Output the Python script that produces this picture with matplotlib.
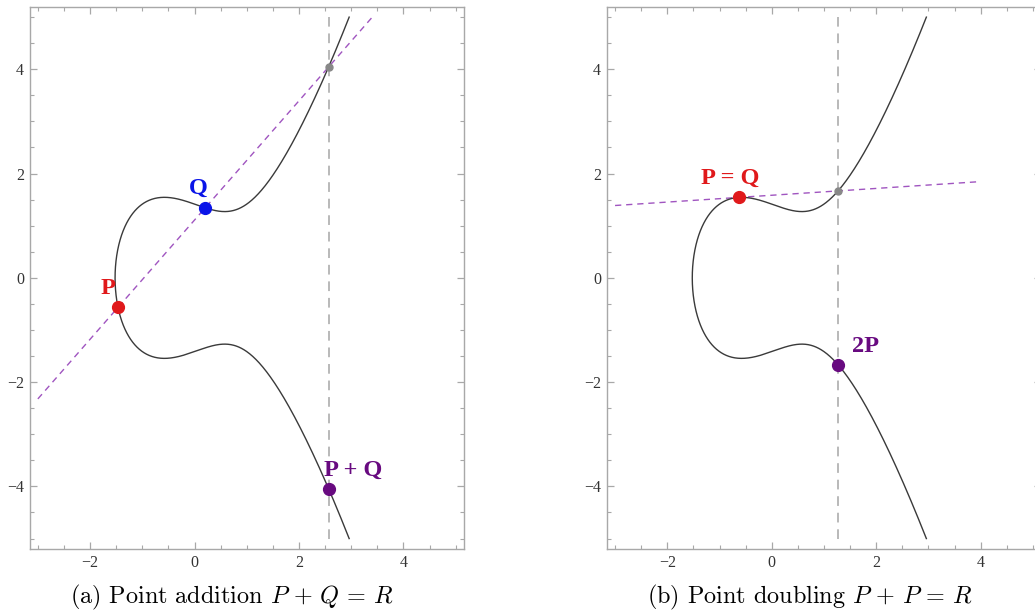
import numpy as np
import matplotlib
matplotlib.use("Agg")
import matplotlib.pyplot as plt
from matplotlib.ticker import MultipleLocator

# ---- data ----
curve_a = -1.0          # y^2 = x^3 + a x + b
curve_b = 2.0
curve_ymax = 5.0
add_px = [-1.465, 0.205]      # x of P and Q (lower/upper branch signs below)
add_sign = [-1, 1]
add_line_x = [-3.0, 3.4]
dbl_px = -0.633
dbl_line_x = [-3.0, 4.0]
xlim = [-3.16, 5.16]
ylim = [-5.2, 5.2]
xticks = [-2, 0, 2, 4]
yticks = [-4, -2, 0, 2, 4]
captions = [r"(a) Point addition $P\,+\,Q\,=\,R$", r"(b) Point doubling $P\,+\,P\,=\,R$"]

RED = "#e0191b"
BLUE = "#0a14e8"
PURPLE = "#680a80"
LINEPUR = "#a055c0"
GRAY = "#888888"
VGRAY = "#b9b9b9"
CURVE = "#3a3a3a"

plt.rcParams['mathtext.fontset'] = 'cm'


def f(x):
    return x**3 + curve_a * x + curve_b


def real_root(c):
    r = np.roots([1, 0, curve_a, curve_b - c])
    r = r[np.abs(r.imag) < 1e-9].real
    return r.max()


x0 = real_root(0.0)
x1 = real_root(curve_ymax**2)
t = np.linspace(0, 1, 800)
xs = x0 + (x1 - x0) * t**2
ys = np.sqrt(np.clip(f(xs), 0, None))
curve_x = np.concatenate([xs[::-1], xs])
curve_y = np.concatenate([-ys[::-1], ys])


def style_axes(ax):
    ax.set_xlim(xlim)
    ax.set_ylim(ylim)
    ax.set_xticks(xticks)
    ax.set_yticks(yticks)
    ax.xaxis.set_minor_locator(MultipleLocator(0.5))
    ax.yaxis.set_minor_locator(MultipleLocator(0.5))
    for s in ax.spines.values():
        s.set_color("#a8a8a8")
        s.set_linewidth(1.0)
    ax.tick_params(which='both', direction='in', top=True, right=True,
                   color="#a8a8a8", labelcolor="#333333", labelsize=11.5, pad=4)
    ax.tick_params(which='major', length=5, width=0.9)
    ax.tick_params(which='minor', length=3, width=0.8)
    ax.set_xticklabels([("\u2212%d" % -v) if v < 0 else str(v) for v in xticks],
                       fontfamily="Liberation Serif")
    ax.set_yticklabels([("\u2212%d" % -v) if v < 0 else str(v) for v in yticks],
                       fontfamily="Liberation Serif")


fig = plt.figure(figsize=(10.35, 6.15), dpi=100)
W, H = 1035.0, 615.0
axA = fig.add_axes([29.5 / W, (H - 549) / H, 434.5 / W, 542.3 / H])
axB = fig.add_axes([606.7 / W, (H - 549) / H, 434.5 / W, 542.3 / H])

lab_kw = dict(fontfamily="Liberation Serif", fontweight="bold", fontsize=17.5,
              textcoords="offset points")

# ---- panel a ----
Px, Qx = add_px
Py = add_sign[0] * np.sqrt(f(Px))
Qy = add_sign[1] * np.sqrt(f(Qx))
m = (Qy - Py) / (Qx - Px)
Rx = m**2 - Px - Qx
Ry = Py + m * (Rx - Px)
lx = np.array(add_line_x)
axA.plot(lx, Py + m * (lx - Px), ls=(0, (4.5, 3.5)), color=LINEPUR, lw=1.0, zorder=2)
axA.plot([Rx, Rx], [-curve_ymax, curve_ymax], ls=(0, (5, 3.5)), color=VGRAY, lw=1.4, zorder=1)
axA.plot(curve_x, curve_y, color=CURVE, lw=1.0, zorder=3)
axA.plot([Rx], [Ry], 'o', color=GRAY, ms=5, zorder=4)
axA.plot([Px], [Py], 'o', color=RED, ms=8.5, zorder=5)
axA.plot([Qx], [Qy], 'o', color=BLUE, ms=8.5, zorder=5)
axA.plot([Rx], [-Ry], 'o', color=PURPLE, ms=8.5, zorder=5)
axA.annotate("P", (Px, Py), xytext=(-7, 13.5), color=RED, ha='center', va='center', **lab_kw)
axA.annotate("Q", (Qx, Qy), xytext=(-5, 14), color=BLUE, ha='center', va='center', **lab_kw)
axA.annotate("P + Q", (Rx, -Ry), xytext=(-3.5, 13.5), color=PURPLE, ha='left', va='center', **lab_kw)
style_axes(axA)

# ---- panel b ----
Dy = np.sqrt(f(dbl_px))
mt = (3 * dbl_px**2 + curve_a) / (2 * Dy)
Tx = mt**2 - 2 * dbl_px
Ty = Dy + mt * (Tx - dbl_px)
lx = np.array(dbl_line_x)
axB.plot(lx, Dy + mt * (lx - dbl_px), ls=(0, (4.5, 3.5)), color=LINEPUR, lw=1.0, zorder=2)
axB.plot([Tx, Tx], [-curve_ymax, curve_ymax], ls=(0, (5, 3.5)), color=VGRAY, lw=1.4, zorder=1)
axB.plot(curve_x, curve_y, color=CURVE, lw=1.0, zorder=3)
axB.plot([Tx], [Ty], 'o', color=GRAY, ms=5, zorder=4)
axB.plot([dbl_px], [Dy], 'o', color=RED, ms=8.5, zorder=5)
axB.plot([Tx], [-Ty], 'o', color=PURPLE, ms=8.5, zorder=5)
axB.annotate("P = Q", (dbl_px, Dy), xytext=(-6, 13.5), color=RED, ha='center', va='center', **lab_kw)
axB.annotate("2P", (Tx, -Ty), xytext=(10, 13), color=PURPLE, ha='left', va='center', **lab_kw)
style_axes(axB)

fig.text(232 / W, 1 - 597 / H, captions[0], ha='center', va='center',
         fontfamily='cmr10', fontsize=17.4)
fig.text(809.5 / W, 1 - 597 / H, captions[1], ha='center', va='center',
         fontfamily='cmr10', fontsize=17.4)

fig.savefig("out.png", dpi=100)
